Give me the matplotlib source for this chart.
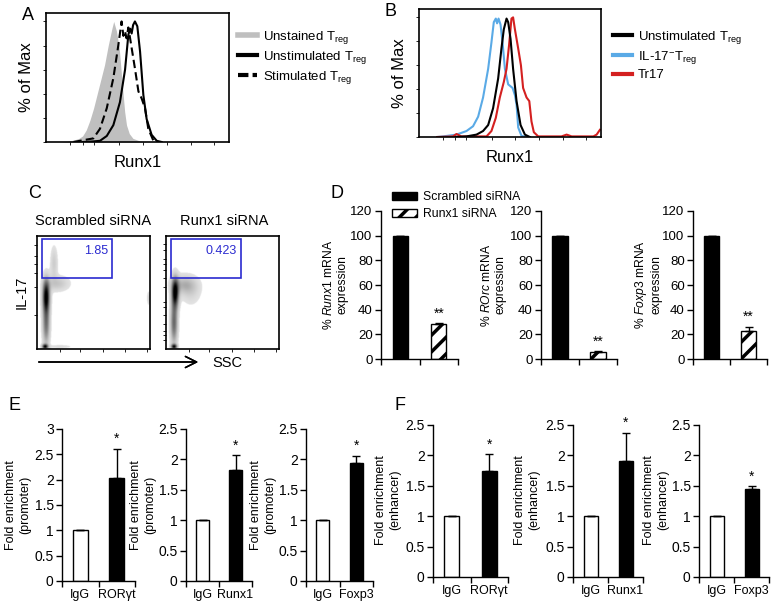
import matplotlib

matplotlib.use("Agg")
import matplotlib.pyplot as plt
import numpy as np
from matplotlib.lines import Line2D
from matplotlib.patches import Patch, Rectangle

plt.rcParams["font.family"] = ["Liberation Sans", "DejaVu Sans"]
plt.rcParams["mathtext.fontset"] = "custom"
plt.rcParams["mathtext.rm"] = "Liberation Sans"
plt.rcParams["mathtext.it"] = "Liberation Sans:italic"
plt.rcParams["hatch.linewidth"] = 2.5

W, H = 775, 604

# --- panel A: Runx1 histograms (x in arbitrary channel units 0-100, y in % of max)
UNSTAINED_X = [8, 11, 15, 18, 20, 22, 24, 26, 28, 30, 32, 34, 36, 37, 38.5, 40, 41, 42, 43, 44, 45.5, 47.5, 51, 55]
UNSTAINED_Y = [0, 0.5, 1.5, 3, 5, 10, 18, 28, 40, 52, 64, 80, 94, 100, 92, 78, 60, 42, 25, 14, 7, 3, 1, 0]
UNSTIM_X = [20, 26, 29.5, 33.2, 36.8, 40.4, 43.2, 45, 46, 46.8, 47.6, 48.6, 49.9, 51.4, 53.2, 55, 57.7, 60.5, 63.2]
UNSTIM_Y = [0, 0.5, 1, 5, 14, 33, 60, 89, 94, 90, 97, 100, 96, 75, 39, 19, 6, 1, 0]
STIM_X = [15, 18.6, 22.2, 25.9, 29.5, 33.2, 36.8, 39.5, 41.3, 42.3, 43.2, 44, 45, 46.8, 48.6, 50.5, 52.3, 54.1, 55.9, 58.7, 61.4]
STIM_Y = [0, 1, 2, 3, 11, 28, 53, 80, 100, 88, 92, 86, 95, 78, 61, 42, 36, 28, 11, 1, 0]
A_LABELS = [r"Unstained T$_{\mathrm{reg}}$", r"Unstimulated T$_{\mathrm{reg}}$", r"Stimulated T$_{\mathrm{reg}}$"]

# --- panel B
B_UNSTIM_X = [20, 26.1, 31.6, 35.2, 38.0, 40.7, 43.5, 45.3, 46.6, 48.1, 49.0, 50.3, 51.7, 53.6, 55.8, 58.2, 60.9]
B_UNSTIM_Y = [0, 0.5, 2, 5, 10, 24, 49, 74, 90, 99, 96, 82, 57, 30, 10, 2, 0]
B_IL17NEG_X = [10, 13.2, 20.6, 26.1, 29.7, 32.5, 35.2, 38.0, 39.8, 41.1, 42.2, 42.9, 43.7, 44.8, 45.9, 47.2, 49.0, 51.4, 52.7, 53.6, 54.5, 56.3, 59.1]
B_IL17NEG_Y = [0, 0.5, 2, 5, 9, 17, 33, 57, 79, 96, 99, 95, 99, 94, 79, 57, 44, 41, 35, 27, 8, 1, 0]
B_TR17_X = [10, 18.7, 20.6, 23.3, 37.1, 39.8, 42.2, 44.4, 46.6, 48.1, 49.5, 50.8, 51.7, 52.7, 54.5, 56.0, 57.2, 59.1, 60.6, 61.8, 63.1, 65.5, 78.3, 81.1, 83.9, 95.8, 97.6, 99.4]
B_TR17_Y = [0, 0.5, 2.5, 0.5, 0.5, 5, 16, 33, 46, 57, 77, 99, 100, 90, 74, 60, 41, 33, 30, 13, 4, 0.5, 0.5, 2, 0.5, 0.5, 2, 6]
B_LABELS = [r"Unstimulated T$_{\mathrm{reg}}$", r"IL-17$^{\mathrm{-}}$T$_{\mathrm{reg}}$", "Tr17"]

# --- panel C: density blobs (cx, cy, sx, sy, weight), axes fraction
C_TITLES = ["Scrambled siRNA", "Runx1 siRNA"]
C_GATE_VALUES = ["1.85", "0.423"]
C_SCRAMBLED_BLOBS = [
    (0.08, 0.47, 0.022, 0.10, 1.00),
    (0.08, 0.22, 0.022, 0.13, 0.55),
    (0.07, 0.02, 0.018, 0.015, 0.85),
    (0.18, 0.58, 0.07, 0.045, 0.22),
    (0.15, 0.76, 0.022, 0.10, 0.18),
    (0.99, 0.45, 0.010, 0.04, 0.15),
    (0.20, 0.02, 0.08, 0.012, 0.10),
]
C_RUNX1_BLOBS = [
    (0.08, 0.50, 0.022, 0.09, 1.00),
    (0.07, 0.23, 0.022, 0.13, 0.60),
    (0.07, 0.02, 0.018, 0.015, 0.85),
    (0.16, 0.57, 0.075, 0.055, 0.28),
    (0.22, 0.50, 0.06, 0.08, 0.12),
]

# --- panel D: siRNA knockdown
D_GROUPS = ["Scrambled siRNA", "Runx1 siRNA"]
D_GENES = ["Runx1", "ROrc", "Foxp3"]
D_VALUES = [[100, 28.3], [100, 5.9], [100, 22.9]]
D_ERRORS = [0.8, 0.3, 3.0]

# --- panels E/F: ChIP fold enrichment
EF_TARGETS = ["ROR\u03b3t", "Runx1", "Foxp3"]
E_VALUES = [[1, 2.03], [1, 1.83], [1, 1.94]]
E_ERRORS = [0.58, 0.24, 0.12]
E_YMAX = [3, 2.5, 2.5]
F_VALUES = [[1, 1.75], [1, 1.90], [1, 1.45]]
F_ERRORS = [0.27, 0.47, 0.04]
F_YMAX = [2.5, 2.5, 2.5]

fig = plt.figure(figsize=(W / 100, H / 100), dpi=100)


def px_axes(x0, y0, x1, y1):
    return fig.add_axes([x0 / W, 1 - y1 / H, (x1 - x0) / W, (y1 - y0) / H])


def fig_text(x, y, s, **kw):
    return fig.text(x / W, 1 - y / H, s, **kw)


def hist_axes(ax):
    ax.set_xlim(0, 100)
    ax.set_ylim(0, 107)
    ax.set_yticks([0, 20, 40, 60, 80, 100])
    ax.set_xticks([13, 20, 26, 40, 53, 66, 79, 92])
    ax.tick_params(length=2.5, width=0.6, labelleft=False, labelbottom=False)
    for s in ax.spines.values():
        s.set_linewidth(1.2)
    ax.set_xlabel("Runx1", fontsize=12, labelpad=7)
    ax.set_ylabel("% of Max", fontsize=12, labelpad=6)


# A
ax = px_axes(46, 13, 229, 142)
ax.fill_between(UNSTAINED_X, UNSTAINED_Y, color="#bfbfbf", lw=0)
ax.plot(UNSTIM_X, UNSTIM_Y, color="black", lw=1.5)
ax.plot(STIM_X, STIM_Y, color="black", lw=1.5, dashes=(4, 2))
hist_axes(ax)
fig_text(22, 15, "A", fontsize=13, va="center")
handles = [
    Line2D([], [], color="#bfbfbf", lw=4),
    Line2D([], [], color="black", lw=3),
    Line2D([], [], color="black", lw=3, dashes=(2.5, 1)),
]
fig.legend(handles, A_LABELS, loc="upper left", bbox_to_anchor=(231 / W, 1 - 22 / H), frameon=False,
           fontsize=9.5, handlelength=1.5, handletextpad=0.4, labelspacing=0.25, borderpad=0)

# B
ax = px_axes(419, 9, 601, 137)
ax.plot(B_IL17NEG_X, B_IL17NEG_Y, color="#5aaae6", lw=1.5)
ax.plot(B_TR17_X, B_TR17_Y, color="#d42020", lw=1.5)
ax.plot(B_UNSTIM_X, B_UNSTIM_Y, color="black", lw=1.5)
hist_axes(ax)
fig_text(385, 12, "B", fontsize=13, va="center")
handles = [
    Line2D([], [], color="black", lw=3),
    Line2D([], [], color="#5aaae6", lw=3),
    Line2D([], [], color="#d42020", lw=3),
]
fig.legend(handles, B_LABELS, loc="upper left", bbox_to_anchor=(606 / W, 1 - 22 / H), frameon=False,
           fontsize=9.5, handlelength=1.5, handletextpad=0.4, labelspacing=0.25, borderpad=0)

# C
grid = np.linspace(0, 1, 300)
gx, gy = np.meshgrid(grid, grid)
c_boxes = [(37, 236, 150, 349), (166, 236, 279, 349)]
c_title_x = [93, 224]
for i, blobs in enumerate([C_SCRAMBLED_BLOBS, C_RUNX1_BLOBS]):
    ax = px_axes(*c_boxes[i])
    z = np.zeros_like(gx)
    for cx, cy, sx, sy, w in blobs:
        z += w * np.exp(-((gx - cx) ** 2) / (2 * sx ** 2) - ((gy - cy) ** 2) / (2 * sy ** 2))
    shade = np.where(z > 0.05, 0.15 + 0.85 * np.clip(z, 0, 1), 0.0)
    ax.imshow(shade, cmap="Greys", vmin=0, vmax=1.0, extent=(0, 1, 0, 1), origin="lower",
              aspect="auto", interpolation="bilinear")
    ax.add_patch(Rectangle((0.04, 0.63), 0.62, 0.34, fill=False, ec="#2b2bd0", lw=1.2))
    ax.text(0.63, 0.87, C_GATE_VALUES[i], color="#2b2bd0", fontsize=9, ha="right", va="center")
    ax.set_xlim(0, 1)
    ax.set_ylim(0, 1)
    ax.set_xticks([0.2, 0.38, 0.58, 0.78, 0.97])
    if i == 0:
        ax.set_yticks([0.3, 0.55, 0.67, 0.75, 0.82, 0.92])
    else:
        ax.set_yticks([0.08, 0.12, 0.16, 0.22, 0.3, 0.37, 0.42, 0.55, 0.63, 0.7, 0.75, 0.8, 0.88, 0.93])
    ax.tick_params(length=2, width=0.6, labelleft=False, labelbottom=False)
    for s in ax.spines.values():
        s.set_linewidth(1.2)
    fig_text(c_title_x[i], 221, C_TITLES[i], fontsize=10.5, ha="center", va="center")
fig_text(28, 193, "C", fontsize=13, va="center")
fig_text(22, 292, "IL-17", fontsize=10.5, rotation=90, ha="center", va="center")
fig.add_artist(plt.annotate("", xy=(201 / W, 1 - 362 / H), xytext=(36 / W, 1 - 362 / H),
                            xycoords="figure fraction", textcoords="figure fraction",
                            arrowprops=dict(arrowstyle="->", lw=1.1, mutation_scale=20)))
fig_text(212, 363, "SSC", fontsize=10.5, va="center")


def bar_panel(ax, values, err, ymax, ystep, colors, hatches, edge, star, tick_labels, tick_fs, label_fs):
    x = np.arange(len(values))
    ax.bar(x, values, width=0.4, color=colors, edgecolor=edge, hatch=hatches, lw=1,
           yerr=[[0, 0], [0, err]], error_kw=dict(ecolor="black", elinewidth=1, capsize=3, capthick=1))
    ax.annotate(star, (1, values[1] + err), xytext=(0, 2), textcoords="offset points",
                ha="center", va="bottom", fontsize=10)
    ax.set_xlim(-0.5, 1.5)
    ax.set_ylim(0, ymax)
    ax.set_yticks(np.arange(0, ymax + ystep / 2, ystep))
    ax.set_yticklabels([f"{v:g}" for v in np.arange(0, ymax + ystep / 2, ystep)], fontsize=tick_fs)
    ax.set_xticks(x)
    ax.set_xticklabels(tick_labels, fontsize=label_fs)
    ax.set_xticks([-0.5, 0.5, 1.5], minor=True)
    ax.tick_params(axis="x", which="major", length=0, pad=6)
    ax.tick_params(axis="x", which="minor", length=4, width=1)
    ax.tick_params(axis="y", length=4, width=1, pad=2)
    ax.spines[["top", "right"]].set_visible(False)
    ax.spines[["left", "bottom"]].set_linewidth(1)
    ax.spines["bottom"].set_zorder(5)


# D
d_boxes = [(381, 211, 458, 359), (541, 211, 617, 359), (693, 211, 767, 359)]
d_label_x = [335, 493, 648]
for i, gene in enumerate(D_GENES):
    ax = px_axes(*d_boxes[i])
    bar_panel(ax, D_VALUES[i], D_ERRORS[i], 120, 20, ["black", "white"], ["", "//"], "black", "**",
              ["", ""], 9.5, 9)
    fig_text(d_label_x[i], 285, f"% $\\mathit{{{gene}}}$ mRNA\nexpression", fontsize=8.7,
             rotation=90, ha="center", va="center", multialignment="center")
fig_text(330, 193, "D", fontsize=13, va="center")
d_handles = [Patch(facecolor="black", edgecolor="black"),
             Patch(facecolor="white", edgecolor="black", hatch="//")]
fig.legend(d_handles, D_GROUPS, loc="upper left", bbox_to_anchor=(386 / W, 1 - 185 / H), frameon=False,
           fontsize=8.8, handlelength=2.0, handleheight=0.6, handletextpad=0.5, labelspacing=0.4, borderpad=0)

# E and F
e_boxes = [(62, 429, 135, 581), (186, 429, 252, 581), (306, 429, 373, 581)]
e_label_x = [18, 143, 263]
f_boxes = [(433, 425, 508, 577), (573, 425, 643, 577), (699, 425, 769, 577)]
f_label_x = [388, 527, 656]
for i, target in enumerate(EF_TARGETS):
    ax = px_axes(*e_boxes[i])
    bar_panel(ax, E_VALUES[i], E_ERRORS[i], E_YMAX[i], 0.5, ["white", "black"], None, "black", "*",
              ["IgG", target], 10, 9)
    fig_text(e_label_x[i], 505, "Fold enrichment\n(promoter)", fontsize=9, rotation=90,
             ha="center", va="center", multialignment="center")
    ax = px_axes(*f_boxes[i])
    bar_panel(ax, F_VALUES[i], F_ERRORS[i], F_YMAX[i], 0.5, ["white", "black"], None, "black", "*",
              ["IgG", target], 10, 9)
    fig_text(f_label_x[i], 500, "Fold enrichment\n(enhancer)", fontsize=9, rotation=90,
             ha="center", va="center", multialignment="center")
fig_text(8, 405, "E", fontsize=13, va="center")
fig_text(395, 405, "F", fontsize=13, va="center")

fig.savefig("out.png", dpi=100)
